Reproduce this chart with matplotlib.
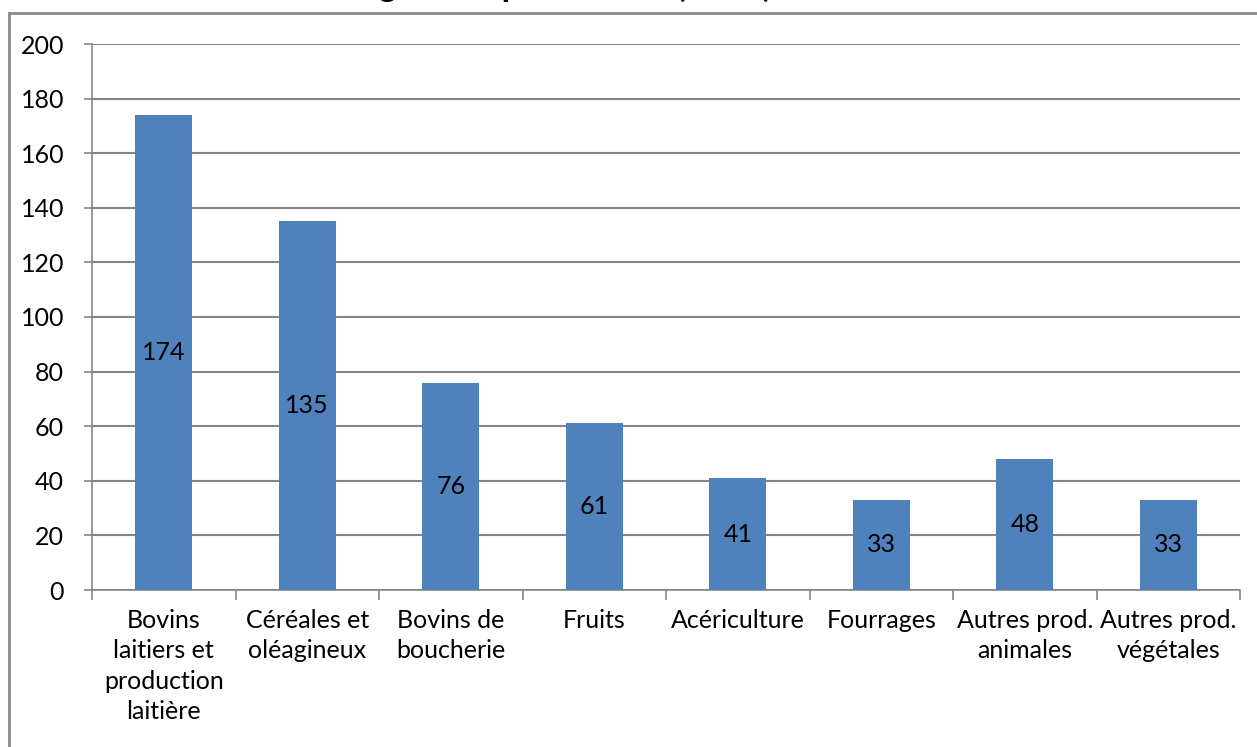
import matplotlib
matplotlib.use("Agg")
import matplotlib.pyplot as plt
from matplotlib.lines import Line2D

# productions agricoles et valeurs
categories = ["Bovins\nlaitiers et\nproduction\nlaitière", "Céréales et\noléagineux",
              "Bovins de\nboucherie", "Fruits", "Acériculture", "Fourrages",
              "Autres prod.\nanimales", "Autres prod.\nvégétales"]
valeurs = [174, 135, 76, 61, 41, 33, 48, 33]
yticks = [0, 20, 40, 60, 80, 100, 120, 140, 160, 180, 200]

plt.rcParams['font.family'] = ['Lato', 'DejaVu Sans']
taille = 18

W, H = 1257, 747
fig = plt.figure(figsize=(W / 100, H / 100), dpi=100)
ax = fig.add_axes([92 / W, 1 - 590 / H, (1240 - 92) / W, (590 - 44) / H])

gris = '#868686'
x = list(range(len(categories)))
ax.bar(x, valeurs, width=0.4, color='#4F81BD', zorder=3)

# étiquettes au milieu des barres
for xi, v in zip(x, valeurs):
    ax.text(xi, v / 2, str(v), ha='center', va='center', fontsize=taille, color='black', zorder=4)

ax.set_xlim(-0.5, len(categories) - 0.5)
ax.set_ylim(0, 200)
ax.set_yticks(yticks)
ax.yaxis.grid(True, color=gris, linewidth=1.5, zorder=0)
ax.tick_params(axis='y', labelsize=taille, length=6, color=gris, width=1.2, pad=14)

# graduations entre les catégories
ax.set_xticks([i - 0.5 for i in range(len(categories) + 1)])
ax.set_xticklabels([])
ax.tick_params(axis='x', length=7, color=gris, width=1.2)
for xi, c in zip(x, categories):
    ax.text(xi, -7, c, ha='center', va='top', fontsize=taille, linespacing=1.38)

for s in ['top', 'right']:
    ax.spines[s].set_visible(False)
for s in ['left', 'bottom']:
    ax.spines[s].set_color(gris)
    ax.spines[s].set_linewidth(1.2)

# cadre du graphique
fig.add_artist(Line2D([9 / W, 1], [1 - 13 / H, 1 - 13 / H], color='#8c8c8c', linewidth=2))
fig.add_artist(Line2D([9 / W, 9 / W], [0, 1 - 13 / H], color='#8c8c8c', linewidth=2))

# titre, coupé par le haut de l'image
fig.text(500 / W, 1 + 3 / H, "Revenus agricoles par secteur (2010)", ha='center', va='baseline',
         fontsize=24, fontweight='bold')

fig.savefig('out.png', dpi=100)
